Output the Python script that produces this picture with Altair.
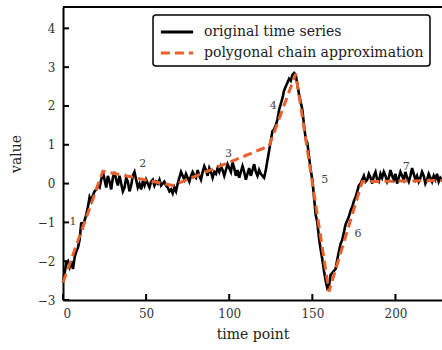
import altair as alt
import pandas as pd

# ---- data ----
ts_part1 = [-2.55, -2.3, -2.05, -2.0, -2.15, -2.0, -2.2, -1.9, -1.75, -1.65,
            -1.45, -1.0, -1.1, -0.95, -0.8, -0.6, -0.35, -0.45, -0.3, -0.2,
            -0.15, -0.05, -0.1, 0.1, 0.3]
ts_part2 = [0.1, -0.1, 0.2, 0.05, -0.15, 0.15, 0.3, 0.1, -0.05, 0.2,
            0.0, -0.2, -0.1, 0.15, 0.05, -0.2, -0.05, 0.2, 0.3, 0.1,
            -0.1, 0.0, -0.15, 0.05, -0.05, 0.1, 0.0, -0.1, 0.05, 0.1,
            -0.05, 0.05, 0.0, 0.1, -0.05, 0.0, 0.05]
ts_part3 = [-0.05, -0.1, -0.2, -0.15, -0.25, -0.1, -0.2, 0.0, 0.15, 0.3,
            0.2, 0.1, 0.25, 0.15, 0.05, 0.2, 0.3, 0.2, 0.15, 0.35,
            0.2, 0.1, 0.3, 0.45, 0.35, 0.2, 0.4, 0.3, 0.15, 0.3,
            0.25, 0.4, 0.3, 0.45, 0.35, 0.2, 0.35, 0.5, 0.4, 0.3,
            0.55, 0.4, 0.2, 0.35, 0.15, 0.3, 0.45, 0.3, 0.1, 0.25,
            0.4, 0.2, 0.35, 0.5, 0.3, 0.2, 0.35, 0.25, 0.2, 0.15]
ts_part4 = [0.35, 0.6, 0.85, 1.1, 1.35, 1.4, 1.5, 1.65, 1.9, 2.05,
            2.2, 2.4, 2.5, 2.6, 2.7, 2.65, 2.8, 2.85, 2.8]
ts_part5 = [2.55, 2.3, 2.1, 1.9, 1.5, 1.15, 1.05, 0.7, 0.35, 0.1,
            -0.35, -0.8, -1.0, -1.4, -1.7, -1.95, -2.25, -2.5, -2.7, -2.65]
ts_part6 = [-2.35, -2.3, -2.25, -2.2, -1.95, -1.75, -1.55, -1.45, -1.25, -1.05,
            -0.95, -0.85, -0.7, -0.6, -0.45, -0.35, -0.2, -0.05, 0.0, 0.1]
ts_part7 = [0.2, 0.05, 0.1, 0.25, 0.15, 0.0, 0.2, 0.3, 0.1, 0.05,
            0.25, 0.15, 0.3, 0.2, 0.05, 0.15, 0.35, 0.2, 0.1, 0.25,
            0.0, 0.15, 0.3, 0.2, 0.1, 0.3, 0.15, 0.05, 0.2, 0.4,
            0.25, 0.1, 0.2, 0.05, 0.15, 0.3, 0.2, 0.0, 0.1, 0.25,
            0.15, 0.05, 0.2, 0.1, 0.25, 0.05, 0.15, 0.1]
series_values = ts_part1 + ts_part2 + ts_part3 + ts_part4 + ts_part5 + ts_part6 + ts_part7
time_points = list(range(len(series_values)))

chain_t = [0, 24, 66, 124, 140, 160, 180, 228]
chain_v = [-2.55, 0.32, -0.05, 0.97, 2.83, -2.78, 0.05, 0.08]

seg_labels = ["1", "2", "3", "4", "5", "6", "7"]
seg_t = [6, 48, 99.5, 126.5, 157.5, 177.5, 206.5]
seg_v = [-1.0, 0.5, 0.75, 2.0, 0.1, -1.3, 0.42]

x_ticks = [0, 50, 100, 150, 200]
y_ticks = [-3, -2, -1, 0, 1, 2, 3, 4]

series_names = ["original time series", "polygonal chain approximation"]
series_colors = ["#000000", "#E8612C"]
series_dashes = [[1, 0], [9, 5]]

# ---- tables ----
df_ts = pd.DataFrame({"t": time_points, "value": series_values, "series": series_names[0]})
df_chain = pd.DataFrame({"t": chain_t, "value": chain_v, "series": series_names[1]})
df_seg = pd.DataFrame({"t": seg_t, "value": seg_v, "label": seg_labels})
df_xt = pd.DataFrame({"t": x_ticks})
df_yt = pd.DataFrame({"value": y_ticks})

W, H = 379, 293
SERIF = "DejaVu Serif"

xscale = alt.Scale(domain=[0, 228], nice=False, zero=False)
yscale = alt.Scale(domain=[-3, 4.55], nice=False, zero=False)

color_enc = alt.Color("series:N", scale=alt.Scale(domain=series_names, range=series_colors),
                      legend=alt.Legend(title=None))
dash_enc = alt.StrokeDash("series:N", scale=alt.Scale(domain=series_names, range=series_dashes),
                          legend=alt.Legend(title=None))

x_main = alt.X("t:Q", scale=xscale,
               axis=alt.Axis(values=x_ticks, format="d", title="time point", ticks=False))
y_main = alt.Y("value:Q", scale=yscale,
               axis=alt.Axis(values=y_ticks, format="d", title="value", ticks=False))

ts_line = alt.Chart(df_ts).mark_line(strokeWidth=2.6, strokeJoin="miter").encode(
    x=x_main, y=y_main, color=color_enc, strokeDash=dash_enc)

chain_line = alt.Chart(df_chain).mark_line(strokeWidth=3).encode(
    x=alt.X("t:Q", scale=xscale), y=alt.Y("value:Q", scale=yscale),
    color=color_enc, strokeDash=dash_enc)

seg_text = alt.Chart(df_seg).mark_text(font=SERIF, fontSize=11, color="#444").encode(
    x=alt.X("t:Q", scale=xscale), y=alt.Y("value:Q", scale=yscale), text="label:N")

x_tick_rules = alt.Chart(df_xt).mark_rule(color="black", strokeWidth=2).encode(
    x=alt.X("t:Q", scale=xscale), y=alt.value(H), y2=alt.value(H - 6))

y_tick_rules = alt.Chart(df_yt).mark_rule(color="black", strokeWidth=2).encode(
    y=alt.Y("value:Q", scale=yscale), x=alt.value(0), x2=alt.value(6))

top_border = alt.Chart(df_xt).mark_rule(color="black", strokeWidth=2).encode(
    x=alt.value(0), x2=alt.value(W), y=alt.value(0))

chart = alt.layer(ts_line, chain_line, seg_text, x_tick_rules, y_tick_rules, top_border).properties(
    width=W, height=H,
    autosize=alt.AutoSizeParams(type="none"),
    padding={"left": 63, "top": 7, "right": 0, "bottom": 50},
).configure_view(stroke=None).configure_axis(
    grid=False, domainColor="black", domainWidth=2,
    labelFont=SERIF, labelFontSize=12, labelColor="#333", labelPadding=8,
    titleFont=SERIF, titleFontSize=14, titleFontWeight="normal", titleColor="#222",
).configure_axisY(titlePadding=14).configure_axisX(titlePadding=8).configure_legend(
    orient="none", legendX=90, legendY=8,
    strokeColor="black", strokeWidth=1.5, cornerRadius=3, fillColor="white",
    padding=6, symbolType="M -1.7 0 L 1.7 0", symbolSize=360, symbolStrokeWidth=3,
    symbolOffset=7,
    labelFont=SERIF, labelFontSize=14, labelColor="#222", rowPadding=3,
    labelOffset=16, labelLimit=0,
)

chart.save("out.html", embed_options={"renderer": "svg", "actions": False})
